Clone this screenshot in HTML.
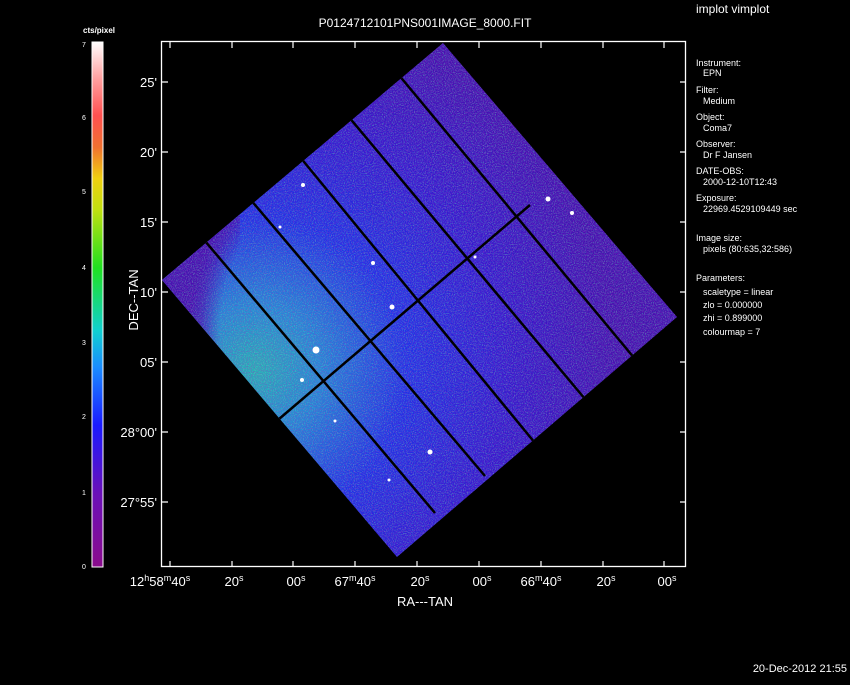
<!DOCTYPE html>
<html><head><meta charset="utf-8"><style>
html,body{margin:0;padding:0;background:#000;}
body{width:850px;height:680px;overflow:hidden;}
text{font-family:"Liberation Sans",sans-serif;fill:#fff;}
</style></head><body>
<svg width="850" height="680" viewBox="0 0 850 680" xmlns="http://www.w3.org/2000/svg">
<defs>
<linearGradient id="cb" x1="0" y1="1" x2="0" y2="0">
<stop offset="0" stop-color="#8a0c8c"/>
<stop offset="0.14" stop-color="#6a10b8"/>
<stop offset="0.27" stop-color="#1a1aff"/>
<stop offset="0.38" stop-color="#1a8cff"/>
<stop offset="0.45" stop-color="#10d0d0"/>
<stop offset="0.57" stop-color="#20e020"/>
<stop offset="0.68" stop-color="#c0e010"/>
<stop offset="0.74" stop-color="#f0d010"/>
<stop offset="0.80" stop-color="#f07030"/>
<stop offset="0.86" stop-color="#ff5050"/>
<stop offset="0.93" stop-color="#ffa0a0"/>
<stop offset="1" stop-color="#ffffff"/>
</linearGradient>
<radialGradient id="img" gradientUnits="userSpaceOnUse" cx="255" cy="370" r="360">
<stop offset="0" stop-color="#28b0b8"/>
<stop offset="0.18" stop-color="#2488d8"/>
<stop offset="0.42" stop-color="#2030e8"/>
<stop offset="0.7" stop-color="#3418d0"/>
<stop offset="1" stop-color="#4410b0"/>
</radialGradient>
<radialGradient id="vig" gradientUnits="userSpaceOnUse" cx="390" cy="330" r="200">
<stop offset="0.85" stop-color="#4410b0" stop-opacity="0"/>
<stop offset="0.95" stop-color="#4410b0" stop-opacity="0.8"/>
<stop offset="1" stop-color="#4410b0" stop-opacity="1"/>
</radialGradient>
<filter id="noise" x="0" y="0" width="100%" height="100%">
<feTurbulence type="fractalNoise" baseFrequency="0.9" numOctaves="1" seed="3"/>
<feColorMatrix type="matrix" values="0 0 0 0 0.1  0 0 0 0 0.95  0 0 0 0 0.5  0 0 0 -3 1.55"/>
</filter>
<filter id="noise2" x="0" y="0" width="100%" height="100%">
<feTurbulence type="fractalNoise" baseFrequency="0.95" numOctaves="1" seed="11"/>
<feColorMatrix type="matrix" values="0 0 0 0 0.3  0 0 0 0 0.05  0 0 0 0 0.55  0 0 0 3 -1.3"/>
</filter>
<clipPath id="cp"><polygon points="162,280 443,43 677,317 397,557"/></clipPath>
<clipPath id="lh"><rect x="160" y="40" width="80" height="400"/></clipPath>
</defs>

<text x="425" y="27" font-size="12" text-anchor="middle">P0124712101PNS001IMAGE_8000.FIT</text>
<text x="696" y="13" font-size="12">implot vimplot</text>
<text x="847" y="672" font-size="11" text-anchor="end">20-Dec-2012 21:55</text>

<text x="83" y="33" font-size="8" font-weight="bold">cts/pixel</text>
<rect x="92" y="42" width="11" height="525" fill="url(#cb)" stroke="#fff" stroke-width="1"/>
<g font-size="7">
<text x="82" y="47">7</text><text x="82" y="120">6</text><text x="82" y="194">5</text>
<text x="82" y="270">4</text><text x="82" y="345">3</text><text x="82" y="419">2</text>
<text x="82" y="495">1</text><text x="82" y="569">0</text>
</g>

<g clip-path="url(#cp)">
<rect x="160" y="40" width="530" height="530" fill="url(#img)"/>
<rect x="160" y="40" width="530" height="530" fill="url(#vig)" clip-path="url(#lh)"/>
<rect x="160" y="40" width="530" height="530" filter="url(#noise2)" opacity="0.6"/>
<rect x="160" y="40" width="530" height="530" filter="url(#noise)" opacity="0.45"/>
<g stroke="#000" stroke-width="2.5">
<line x1="205" y1="241" x2="435" y2="513"/>
<line x1="250" y1="199" x2="485" y2="476"/>
<line x1="300" y1="157" x2="535" y2="443"/>
<line x1="348" y1="116" x2="585" y2="399"/>
<line x1="398" y1="74" x2="635" y2="359"/>
<line x1="272" y1="425" x2="530" y2="205"/>
</g>
<g fill="#fff">
<circle cx="316" cy="350" r="3.5"/><circle cx="303" cy="185" r="2"/>
<circle cx="392" cy="307" r="2.5"/><circle cx="373" cy="263" r="2"/>
<circle cx="302" cy="380" r="2"/><circle cx="430" cy="452" r="2.5"/>
<circle cx="389" cy="480" r="1.5"/><circle cx="548" cy="199" r="2.5"/>
<circle cx="572" cy="213" r="2"/><circle cx="280" cy="227" r="1.5"/>
<circle cx="475" cy="257" r="1.5"/><circle cx="335" cy="421" r="1.5"/>
</g>
</g>

<rect x="161.5" y="41.5" width="524" height="525" fill="none" stroke="#fff" stroke-width="1.3"/>
<g stroke="#fff" stroke-width="1.2">
<path d="M170 42v6M232 42v6M293 42v6M355 42v6M417 42v6M479 42v6M541 42v6M603 42v6M664 42v6"/>
<path d="M170 567v-6M232 567v-6M293 567v-6M355 567v-6M417 567v-6M479 567v-6M541 567v-6M603 567v-6M664 567v-6"/>
<path d="M162 82h6M162 152h6M162 222h6M162 292h6M162 362h6M162 432h6M162 502h6"/>
<path d="M686 82h-6M686 152h-6M686 222h-6M686 292h-6M686 362h-6M686 432h-6M686 502h-6"/>
</g>
<g font-size="13" text-anchor="end">
<text x="157" y="87">25'</text><text x="157" y="157">20'</text><text x="157" y="227">15'</text>
<text x="157" y="297">10'</text><text x="157" y="367">05'</text>
<text x="157" y="437">28°00'</text><text x="157" y="507">27°55'</text>
</g>
<g font-size="13" text-anchor="middle">
<text x="160" y="586">12<tspan font-size="9" dy="-5">h</tspan><tspan dy="5">58</tspan><tspan font-size="9" dy="-5">m</tspan><tspan dy="5">40</tspan><tspan font-size="9" dy="-5">s</tspan></text>
<text x="234" y="586">20<tspan font-size="9" dy="-5">s</tspan></text>
<text x="296" y="586">00<tspan font-size="9" dy="-5">s</tspan></text>
<text x="355" y="586">67<tspan font-size="9" dy="-5">m</tspan><tspan dy="5">40</tspan><tspan font-size="9" dy="-5">s</tspan></text>
<text x="420" y="586">20<tspan font-size="9" dy="-5">s</tspan></text>
<text x="482" y="586">00<tspan font-size="9" dy="-5">s</tspan></text>
<text x="541" y="586">66<tspan font-size="9" dy="-5">m</tspan><tspan dy="5">40</tspan><tspan font-size="9" dy="-5">s</tspan></text>
<text x="606" y="586">20<tspan font-size="9" dy="-5">s</tspan></text>
<text x="667" y="586">00<tspan font-size="9" dy="-5">s</tspan></text>
</g>
<text x="425" y="606" font-size="13" text-anchor="middle" font-family="Liberation Serif">RA---TAN</text>
<text transform="translate(138,300) rotate(-90)" font-size="13" text-anchor="middle">DEC--TAN</text>

<g font-size="9">
<text x="696" y="66">Instrument:</text><text x="703" y="76">EPN</text>
<text x="696" y="93">Filter:</text><text x="703" y="104">Medium</text>
<text x="696" y="120">Object:</text><text x="703" y="131">Coma7</text>
<text x="696" y="147">Observer:</text><text x="703" y="158">Dr F Jansen</text>
<text x="696" y="174">DATE-OBS:</text><text x="703" y="185">2000-12-10T12:43</text>
<text x="696" y="201">Exposure:</text><text x="703" y="212">22969.4529109449 sec</text>
<text x="696" y="241">Image size:</text><text x="703" y="252">pixels (80:635,32:586)</text>
<text x="696" y="281">Parameters:</text>
<text x="703" y="295">scaletype = linear</text>
<text x="703" y="308">zlo = 0.000000</text>
<text x="703" y="321">zhi = 0.899000</text>
<text x="703" y="335">colourmap =    7</text>
</g>
</svg>
</body></html>
